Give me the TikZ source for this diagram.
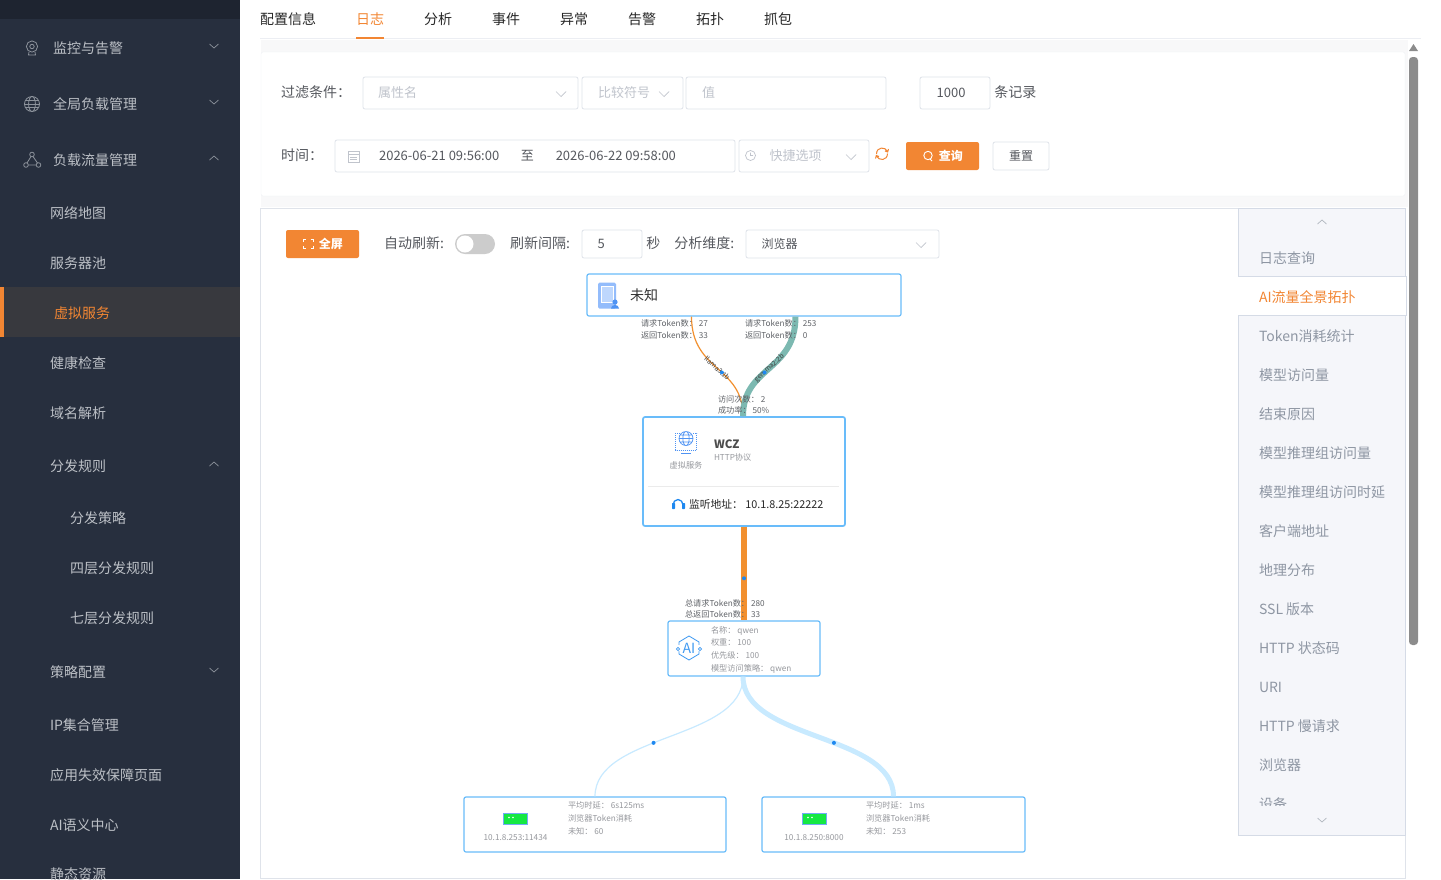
\documentclass[tikz,border=0pt]{standalone}
\usepackage{fontspec}
\setmainfont{Noto Sans CJK SC}
\usepackage{tikz}
\usetikzlibrary{positioning}
\definecolor{sideBody}{HTML}{272F3E}
\definecolor{sideTop}{HTML}{1E2430}
\definecolor{sideActive}{HTML}{38393E}
\definecolor{sideText}{HTML}{BCC0C6}
\definecolor{sideIcon}{HTML}{8D939C}
\definecolor{uiOrange}{HTML}{F28633}
\definecolor{uiText}{HTML}{55585E}
\definecolor{uiHint}{HTML}{C0C4CC}
\definecolor{uiLine}{HTML}{DFE3EA}
\definecolor{uiShadow}{HTML}{F8F8F9}
\definecolor{tabBody}{HTML}{F5F6FA}
\definecolor{tabBorder}{HTML}{D5DBE6}
\definecolor{tabText}{HTML}{8E96A3}
\definecolor{flowBorder}{HTML}{69BCFA}
\definecolor{flowDot}{HTML}{1E88F0}
\definecolor{flowTeal}{HTML}{7CB9B1}
\definecolor{flowOrange}{HTML}{F2902F}
\definecolor{flowSky}{HTML}{C8EAFF}
\definecolor{flowSmall}{HTML}{606368}
\definecolor{flowGray}{HTML}{96989D}
\definecolor{iconBlue}{HTML}{4F93F3}
\definecolor{iconPale}{HTML}{93BCFB}
\definecolor{serverGreen}{HTML}{15E842}
\tikzstyle{ui} = [inner sep=0pt, outer sep=0pt, anchor=west]
\tikzstyle{ui14} = [ui, font={\fontsize{14}{16}\selectfont}, text height=14.3pt, text depth=1.7pt]
\tikzstyle{ui13} = [ui, font={\fontsize{13}{15}\selectfont}, text height=11.4pt, text depth=1.6pt]
\tikzstyle{ui12} = [ui, font={\fontsize{12}{14}\selectfont}, text height=10.6pt, text depth=1.4pt]
\tikzstyle{tiny} = [ui, font={\fontsize{8.2}{10}\selectfont}, text height=7.2pt, text depth=1pt]
\tikzstyle{menu} = [ui14, text=sideText]
\tikzstyle{topTab} = [ui14, text=black!85]
\tikzstyle{caption} = [ui14, text=uiText]
\tikzstyle{hint} = [ui13, text=uiHint]
\tikzstyle{value} = [ui13, text=uiText]
\tikzstyle{sideTab} = [ui14, text=tabText]
\tikzstyle{field} = [draw=uiLine, line width=0.8pt, fill=white, rounded corners=2pt, inner sep=0pt, minimum height=32pt]
\tikzstyle{orangeButton} = [fill=uiOrange, rounded corners=2pt, inner sep=0pt, minimum height=28pt]
\tikzstyle{chevron} = [line width=0.7pt, line join=miter]
\tikzstyle{flowBox} = [draw=flowBorder, fill=white, rounded corners=2pt, line width=1.2pt, inner sep=0pt]
\tikzstyle{flowPoint} = [circle, fill=flowDot, inner sep=0pt, minimum size=4pt]
\tikzstyle{flowNote} = [tiny, text=flowSmall]
\tikzstyle{flowInfo} = [tiny, text=flowGray]
\tikzstyle{modelTag} = [font={\fontsize{6.8}{8}\selectfont}, inner sep=0pt, sloped, text=black!75]
\begin{document}
\begin{tikzpicture}[x=1pt, y=-1pt]
    \useasboundingbox (0,0) rectangle (1441,879);
    % sidebar
    \fill [sideBody] (0,0) rectangle (240,879);
    \fill [sideTop] (0,0) rectangle (240,19);
    \fill [sideActive] (0,287) rectangle (240,337);
    \fill [uiOrange] (0,287) rectangle (4,337);
    \node [menu] (monitor) at (53,47) {监控与告警};
    \node [menu, below=56pt of monitor.west, anchor=west] (globalLoad) {全局负载管理};
    \node [menu, below=56pt of globalLoad.west, anchor=west] (traffic) {负载流量管理};
    \node [menu] (netMap) at (50,212) {网络地图};
    \node [menu, below=50pt of netMap.west, anchor=west] (pool) {服务器池};
    \node [menu, text=uiOrange] (vserver) at (54,312) {虚拟服务};
    \node [menu] (health) at (50,362) {健康检查};
    \node [menu, below=50pt of health.west, anchor=west] (dns) {域名解析};
    \node [menu, below=53pt of dns.west, anchor=west] (rules) {分发规则};
    \node [menu] (ruleStrategy) at (70,517) {分发策略};
    \node [menu, below=50pt of ruleStrategy.west, anchor=west] (ruleFour) {四层分发规则};
    \node [menu, below=50pt of ruleFour.west, anchor=west] (ruleSeven) {七层分发规则};
    \node [menu] (policy) at (50,671) {策略配置};
    \node [menu, below=53pt of policy.west, anchor=west] (ipSet) {IP集合管理};
    \node [menu, below=50pt of ipSet.west, anchor=west] (failPage) {应用失效保障页面};
    \node [menu, below=50pt of failPage.west, anchor=west] (semantic) {AI语义中心};
    \node [menu, below=49pt of semantic.west, anchor=west] (staticRes) {静态资源};
    \draw [chevron, sideIcon] (214,46) +(-4.5,-2) -- +(0,2) -- +(4.5,-2);
    \draw [chevron, sideIcon] (214,102) +(-4.5,-2) -- +(0,2) -- +(4.5,-2);
    \draw [chevron, sideIcon] (214,158) +(-4.5,2) -- +(0,-2) -- +(4.5,2);
    \draw [chevron, sideIcon] (214,464) +(-4.5,2) -- +(0,-2) -- +(4.5,2);
    \draw [chevron, sideIcon] (214,670) +(-4.5,-2) -- +(0,2) -- +(4.5,-2);
    % sidebar icons
    \draw [sideIcon, line width=0.8pt] (32,46.5) circle (5.6pt) (32,46.5) circle (2.2pt);
    \draw [sideIcon, line width=0.8pt] (29,52) -- (28.5,55) -- (35.5,55) -- (35,52);
    \draw [sideIcon, line width=0.8pt] (32,104) circle (7.5pt) (32,104) ellipse (3.4pt and 7.5pt);
    \draw [sideIcon, line width=0.8pt] (24.5,104) -- (39.5,104) (25.5,100.5) -- (38.5,100.5) (25.5,107.5) -- (38.5,107.5);
    \draw [sideIcon, line width=0.8pt] (32,154.5) circle (2.3pt) (26,165) circle (2.3pt) (38.5,165) circle (2.3pt);
    \draw [sideIcon, line width=0.8pt] (31,156.5) -- (27,163) (33,156.5) -- (37.5,163) (28.3,165) -- (36.2,165);
    % top tabs
    \node [topTab] (tabConfig) at (260,18) {配置信息};
    \node [topTab, right=40pt of tabConfig, text=uiOrange] (tabLog) {日志};
    \node [topTab, right=40pt of tabLog] (tabAnalysis) {分析};
    \node [topTab, right=40pt of tabAnalysis] (tabEvent) {事件};
    \node [topTab, right=40pt of tabEvent] (tabAbnormal) {异常};
    \node [topTab, right=40pt of tabAbnormal] (tabAlarm) {告警};
    \node [topTab, right=40pt of tabAlarm] (tabTopo) {拓扑};
    \node [topTab, right=40pt of tabTopo] (tabCapture) {抓包};
    \draw [uiLine!60, line width=0.8pt] (260,38.5) -- (1421,38.5);
    \draw [uiOrange, line width=1.6pt] (356,38) -- (384,38);
    % filter card
    \fill [uiShadow] (261,40) rectangle (1408,207);
    \draw [uiLine!50, fill=white, rounded corners=2pt] (261,52) rectangle (1405,196);
    \node [caption] (filterCaption) at (281,91) {过滤条件：};
    \node [field, minimum width=215pt] (attrBox) at (470.5,93) {};
    \node [hint, right=15.5pt of attrBox.west, anchor=west] (attrHint) {属性名};
    \node [field, minimum width=101pt] (cmpBox) at (632.5,93) {};
    \node [hint, right=16.5pt of cmpBox.west, anchor=west] (cmpHint) {比较符号};
    \node [field, minimum width=200pt] (valBox) at (786,93) {};
    \node [hint, right=16.5pt of valBox.west, anchor=west] (valHint) {值};
    \node [field, minimum width=70pt] (limitBox) at (955,93) {};
    \node [value, right=17pt of limitBox.west, anchor=west] (limitValue) {1000};
    \node [caption, right=4pt of limitBox, yshift=1.5pt] (limitUnit) {条记录};
    \draw [chevron, uiHint] (561,94) +(-5,-2.5) -- +(0,2.5) -- +(5,-2.5);
    \draw [chevron, uiHint] (664,94) +(-5,-2.5) -- +(0,2.5) -- +(5,-2.5);
    \node [caption] (timeCaption) at (281,154) {时间：};
    \node [field, minimum width=400pt] (dateBox) at (535,156) {};
    \node [value, right=44.5pt of dateBox.west, anchor=west] (dateFrom) {2026-06-21 09:56:00};
    \node [value, right=21.5pt of dateFrom] (dateTo) {至};
    \node [value, right=22pt of dateTo] (dateEnd) {2026-06-22 09:58:00};
    \draw [uiHint, line width=0.7pt] (348,151) rectangle (359,162) (348,154) -- (359,154) (350,157) -- (357,157) (350,159.5) -- (357,159.5);
    \node [field, minimum width=130pt] (quickBox) at (804,156) {};
    \node [hint, right=31pt of quickBox.west, anchor=west, yshift=0.5pt] (quickHint) {快捷选项};
    \draw [uiHint, line width=0.7pt] (750.5,155.5) circle (5pt) (750.5,152.5) -- (750.5,155.5) -- (753,155.5);
    \draw [chevron, uiHint] (851,157) +(-5,-2.5) -- +(0,2.5) -- +(5,-2.5);
    \draw [uiOrange, line width=1pt] (876.5,154) .. controls (876.5,146.5) and (885.5,146.5) .. (887.5,151.5) (885,151) -- (887.7,152) -- (888.5,149);
    \draw [uiOrange, line width=1pt] (887.5,153.5) .. controls (887.5,161) and (878.5,161) .. (876.5,156) (879,156.5) -- (876.3,155.5) -- (875.5,158.5);
    \node [orangeButton, minimum width=73pt] (queryButton) at (942.5,156) {};
    \node [ui12, text=white, right=33pt of queryButton.west, anchor=west, font={\fontsize{12}{14}\selectfont\bfseries}] (queryText) {查询};
    \draw [white, line width=0.9pt] (928,155.5) circle (4.2pt) (930,159) -- (932,161);
    \node [field, minimum width=56pt, minimum height=28pt] (resetBox) at (1021,156) {};
    \node [ui12, text=uiText] (resetText) at (1009,155.5) {重置};
    % scrollbar
    \fill [black!45] (1409,51) -- (1413.5,44) -- (1418,51) -- cycle;
    \fill [black!45, rounded corners=3.5pt] (1409,57) rectangle (1418,645);
    % topology panel
    \draw [uiLine, line width=0.8pt, fill=white] (260.5,208) rectangle (1405.5,878.5);
    \node [orangeButton, minimum width=73pt] (fullButton) at (322.5,244) {};
    \node [ui12, text=white, right=33pt of fullButton.west, anchor=west, font={\fontsize{12}{14}\selectfont\bfseries}] (fullText) {全屏};
    \draw [white, line width=1pt] (303,242) -- (303,239.5) -- (305.5,239.5) (310.5,239.5) -- (313,239.5) -- (313,242) (313,245.5) -- (313,248) -- (310.5,248) (305.5,248) -- (303,248) -- (303,245.5);
    \node [caption] (autoCaption) at (384,242) {自动刷新:};
    \fill [black!20, rounded corners=10pt] (455,234) rectangle (495,254);
    \fill [white] (465,244) circle (8.5pt);
    \node [caption] (gapCaption) at (510,242) {刷新间隔:};
    \node [field, minimum width=60pt, minimum height=28pt] (gapBox) at (612,244) {};
    \node [value, right=16pt of gapBox.west, anchor=west] (gapValue) {5};
    \node [caption, right=4pt of gapBox, yshift=1.5pt] (gapUnit) {秒};
    \node [caption, right=14pt of gapUnit] (dimCaption) {分析维度:};
    \node [field, minimum width=193pt, minimum height=28pt] (dimBox) at (842.5,244) {};
    \node [ui12, text=uiText, right=16pt of dimBox.west, anchor=west] (dimValue) {浏览器};
    \draw [chevron, uiHint] (921,245) +(-5,-2.5) -- +(0,2.5) -- +(5,-2.5);
    % side tabs
    \draw [tabBorder, fill=tabBody] (1238.5,208) rectangle (1405.5,835.5);
    \draw [chevron, tabText!70] (1322,222) +(-4.5,2) -- +(0,-2) -- +(4.5,2);
    \node [sideTab] (logQuery) at (1259,257) {日志查询};
    \draw [tabBorder, fill=white] (1238.5,276.5) rectangle (1406,315.5);
    \fill [white] (1238,277) rectangle (1239,315);
    \node [sideTab, text=uiOrange, below=39pt of logQuery.west, anchor=west] (aiTopo) {AI流量全景拓扑};
    \node [sideTab, below=39pt of aiTopo.west, anchor=west] (tokenStat) {Token消耗统计};
    \node [sideTab, below=39pt of tokenStat.west, anchor=west] (modelVisit) {模型访问量};
    \node [sideTab, below=39pt of modelVisit.west, anchor=west] (endReason) {结束原因};
    \node [sideTab, below=39pt of endReason.west, anchor=west] (groupVisit) {模型推理组访问量};
    \node [sideTab, below=39pt of groupVisit.west, anchor=west] (groupDelay) {模型推理组访问时延};
    \node [sideTab, below=39pt of groupDelay.west, anchor=west] (clientAddr) {客户端地址};
    \node [sideTab, below=39pt of clientAddr.west, anchor=west] (geoDist) {地理分布};
    \node [sideTab, below=39pt of geoDist.west, anchor=west] (sslVer) {SSL 版本};
    \node [sideTab, below=39pt of sslVer.west, anchor=west] (httpCode) {HTTP 状态码};
    \node [sideTab, below=39pt of httpCode.west, anchor=west] (uriTab) {URI};
    \node [sideTab, below=39pt of uriTab.west, anchor=west] (httpSlow) {HTTP 慢请求};
    \node [sideTab, below=39pt of httpSlow.west, anchor=west] (browserTab) {浏览器};
    \node [sideTab, below=39pt of browserTab.west, anchor=west] (deviceTab) {设备};
    \fill [tabBody] (1239,805.5) rectangle (1405,835);
    \draw [chevron, tabText!70] (1322,820) +(-4.5,-2) -- +(0,2) -- +(4.5,-2);
    % flow nodes
    \node [flowBox, minimum width=314pt, minimum height=42pt] (unknown) at (744,295) {};
    \node [flowBox, line width=1.7pt, minimum width=202pt, minimum height=109pt] (wcz) at (744,471.5) {};
    \node [flowBox, minimum width=152pt, minimum height=55pt] (aiModel) at (744,648.5) {};
    \node [flowBox, minimum width=262pt, minimum height=55pt] (serverA) at (595,824.5) {};
    \node [flowBox, minimum width=263pt, minimum height=55pt] (serverB) at (893.5,824.5) {};
    % flows
    \draw [flowOrange, line width=1.2pt] ([xshift=-52.5pt]unknown.south)
        .. controls +(0,55) and +(0,-50) .. ([xshift=-1pt]wcz.north)
        node [modelTag, pos=0.5] {llama3:1b}
        node [flowPoint, pos=0.56] (dotLlama) {};
    \draw [flowTeal, line width=6pt] ([xshift=51.5pt]unknown.south)
        .. controls +(0,55) and +(0,-50) .. ([xshift=-1pt]wcz.north)
        node [modelTag, pos=0.5] {gemma2:2b}
        node [flowPoint, pos=0.56] (dotGemma) {};
    \draw [flowOrange, line width=6pt] (wcz.south) -- node [flowPoint, pos=0.55] (dotModel) {} (aiModel.north);
    \draw [flowSky, line width=1.2pt] ([xshift=-1pt]aiModel.south)
        .. controls +(0,64) and +(0,-63) .. (serverA.north)
        node [flowPoint, pos=0.57] (dotServerA) {};
    \draw [flowSky, line width=5pt] ([xshift=-1pt]aiModel.south)
        .. controls +(0,64) and +(0,-63) .. (serverB.north)
        node [flowPoint, pos=0.57] (dotServerB) {};
    % flow notes
    \node [flowNote] (reqA) at (641,323) {请求Token数： 27};
    \node [flowNote, below=12pt of reqA.west, anchor=west] (retA) {返回Token数： 33};
    \node [flowNote] (reqB) at (745,323) {请求Token数： 253};
    \node [flowNote, below=12pt of reqB.west, anchor=west] (retB) {返回Token数： 0};
    \node [flowNote] (visits) at (718,399) {访问次数： 2};
    \node [flowNote, below=11pt of visits.west, anchor=west] (rate) {成功率： 50\%};
    \node [flowNote] (totalReq) at (685,603) {总请求Token数： 280};
    \node [flowNote, below=11pt of totalReq.west, anchor=west] (totalRet) {总返回Token数： 33};
    % unknown node
    \node [ui14, text=black!80] (unknownText) at (630,294) {未知};
    \fill [iconPale, rounded corners=1.5pt] (598,282.5) rectangle (616,308.5);
    \fill [white] (600.5,286) rectangle (613.5,303);
    \fill [iconPale!60] (601.5,287) rectangle (612.5,302);
    \fill [iconBlue] (615,302) circle (2.6pt);
    \fill [iconBlue] (611,308.5) arc (180:360:4pt and -3.6pt) -- cycle;
    % wcz node
    \draw [iconBlue, line width=1pt, densely dotted] (675.5,433) rectangle (696.5,450);
    \fill [white] (680,431) rectangle (692,446);
    \draw [iconBlue, line width=0.7pt] (686,438.5) circle (7pt) (686,438.5) ellipse (3.2pt and 7pt) (679,438.5) -- (693,438.5) (680,435) -- (692,435) (680,442) -- (692,442);
    \draw [iconBlue, line width=0.9pt] (681,453.5) -- (691,453.5);
    \node [tiny, text=flowGray, anchor=center] (wczKind) at (686,465) {虚拟服务};
    \node [ui, font={\fontsize{11.5}{13}\selectfont\bfseries}, text=black!70, text height=10pt, text depth=1.4pt] (wczName) at (714,444) {WCZ};
    \node [tiny, text=flowGray] (wczProto) at (714,457) {HTTP协议};
    \draw [black!8] (648,486) -- (839,486);
    \draw [flowDot, line width=1.3pt] (673,505) arc (180:0:5pt and 5.5pt);
    \fill [flowDot, rounded corners=0.6pt] (672,503) rectangle (675,509) (682,503) rectangle (685,509);
    \node [ui, font={\fontsize{10.8}{13}\selectfont}, text=black!85, text height=9.5pt, text depth=1.3pt] (listenAddr) at (689,504) {监听地址： 10.1.8.25:22222};
    % model node
    \draw [flowDot!85, line width=0.8pt] (689,636) -- (699,642) -- (699,654) -- (689,660) -- (679,654) -- (679,642) -- cycle;
    \node [flowBox, draw=none, fill=white, font={\fontsize{14}{16}\selectfont}, text=flowDot!85, inner sep=0.5pt] (aiMark) at (689,648) {AI};
    \fill [white] (677,645) rectangle (681,651) (697,645) rectangle (701,651);
    \draw [flowDot!85, line width=0.7pt] (678,649) circle (1.6pt) (700,649) circle (1.6pt);
    \node [flowInfo] (modelName) at (711,630) {名称： qwen};
    \node [flowInfo] (modelWeight) at (711,642) {权重： 100};
    \node [flowInfo] (modelPriority) at (711,655) {优先级： 100};
    \node [flowInfo] (modelPolicy) at (711,668) {模型访问策略： qwen};
    % server nodes
    \node [draw=iconBlue!80, fill=serverGreen, inner sep=0pt, minimum width=24pt, minimum height=11pt] (greenA) at (515,818.5) {};
    \fill [white] (509,817.5) circle (0.9pt) (513,817.5) circle (0.9pt);
    \node [flowInfo, anchor=center] (addrA) at (515.5,837) {10.1.8.253:11434};
    \node [flowInfo] (delayA) at (568,805) {平均时延： 6s125ms};
    \node [flowInfo] (tokenA) at (568,818) {浏览器Token消耗};
    \node [flowInfo] (usedA) at (568,831) {未知： 60};
    \node [draw=iconBlue!80, fill=serverGreen, inner sep=0pt, minimum width=24pt, minimum height=11pt] (greenB) at (814,818.5) {};
    \fill [white] (808,817.5) circle (0.9pt) (812,817.5) circle (0.9pt);
    \node [flowInfo, anchor=center] (addrB) at (814,837) {10.1.8.250:8000};
    \node [flowInfo] (delayB) at (866,805) {平均时延： 1ms};
    \node [flowInfo] (tokenB) at (866,818) {浏览器Token消耗};
    \node [flowInfo] (usedB) at (866,831) {未知： 253};
\end{tikzpicture}
\end{document}
